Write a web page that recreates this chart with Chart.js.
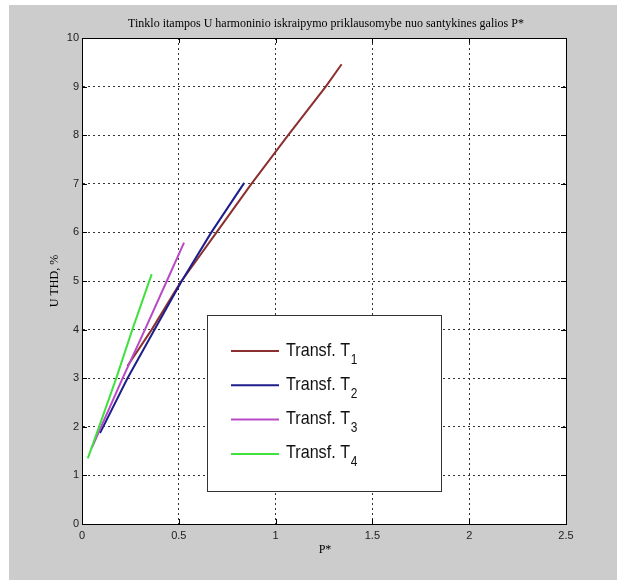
<!DOCTYPE html>
<html>
<head>
<meta charset="utf-8">
<script src="https://cdn.jsdelivr.net/npm/chart.js@4/dist/chart.umd.min.js"></script>
<style>
  html, body { margin: 0; padding: 0; background: #fff; }
  #wrap { position: relative; width: 617px; height: 580px; }
</style>
</head>
<body>
<div id="wrap"><canvas id="c" width="617" height="580"></canvas></div>
<script>
// P* (relative power) and U THD (%) for each transformer
const pT1 = [0.235, 0.36, 0.505, 0.695, 0.875, 1.065, 1.259, 1.341];
const uT1 = [3.25, 4, 4.95, 6, 7, 8, 9, 9.46];
const pT2 = [0.093, 0.235, 0.375, 0.515, 0.668, 0.838];
const uT2 = [1.87, 3, 4, 5, 6, 7.02];
const pT3 = [0.05, 0.21, 0.325, 0.438, 0.527];
const uT3 = [1.56, 3, 4, 5, 5.79];
const pT4 = [0.03, 0.088, 0.177, 0.26, 0.36];
const uT4 = [1.35, 2, 3, 4, 5.14];

const seriesNames = ['Transf. T', 'Transf. T', 'Transf. T', 'Transf. T'];
const seriesSubs = ['1', '2', '3', '4'];
const seriesColors = ['#8c2f2f', '#1d1d8c', '#b84ac6', '#3fe03f'];

const xTicks = [0, 0.5, 1, 1.5, 2, 2.5];
const yTicks = [0, 1, 2, 3, 4, 5, 6, 7, 8, 9, 10];

const titleText = 'Tinklo itampos U harmoninio iskraipymo priklausomybe nuo santykines galios P*';
const xTitle = 'P*';
const yTitle = 'U THD, %';

const SERIF = '"Liberation Serif", "Times New Roman", serif';
const SANS = '"Liberation Sans", Arial, sans-serif';

const pairs = (xs, ys) => xs.map((x, i) => ({ x, y: ys[i] }));
const series = [pairs(pT1, uT1), pairs(pT2, uT2), pairs(pT3, uT3), pairs(pT4, uT4)];

// gray figure, white axes, box frame with inner ticks, titles
const frame = {
    id: 'frame',
    beforeDraw(chart) {
        const { ctx, chartArea: a } = chart;
        ctx.save();
        ctx.fillStyle = '#cccccc';
        ctx.fillRect(9, 5, chart.width - 9, chart.height - 5);
        ctx.fillStyle = '#ffffff';
        ctx.fillRect(a.left, a.top, a.right - a.left, a.bottom - a.top);
        ctx.restore();
    },
    afterDraw(chart) {
        const { ctx, chartArea: a, scales } = chart;
        ctx.save();
        ctx.strokeStyle = '#000';
        ctx.lineWidth = 1;
        ctx.strokeRect(Math.round(a.left) + 0.5, Math.round(a.top) + 0.5,
            Math.round(a.right - a.left), Math.round(a.bottom - a.top));
        ctx.beginPath();
        xTicks.forEach(v => {
            const x = Math.round(scales.x.getPixelForValue(v)) + 0.5;
            ctx.moveTo(x, a.bottom); ctx.lineTo(x, a.bottom - 5);
            ctx.moveTo(x, a.top); ctx.lineTo(x, a.top + 5);
        });
        yTicks.forEach(v => {
            const y = Math.round(scales.y.getPixelForValue(v)) + 0.5;
            ctx.moveTo(a.left, y); ctx.lineTo(a.left + 5, y);
            ctx.moveTo(a.right, y); ctx.lineTo(a.right - 5, y);
        });
        ctx.stroke();

        ctx.fillStyle = '#000';
        ctx.font = '12px ' + SERIF;
        ctx.textAlign = 'center';
        ctx.textBaseline = 'alphabetic';
        ctx.fillText(titleText, 326, 27);
        ctx.fillText(xTitle, 325, 553);
        ctx.translate(58, 281);
        ctx.rotate(-Math.PI / 2);
        ctx.fillText(yTitle, 0, 0);
        ctx.restore();
    }
};

// boxed legend with subscripted labels
const boxLegend = {
    id: 'boxLegend',
    afterDatasetsDraw(chart, args, o) {
        const ctx = chart.ctx;
        ctx.save();
        ctx.fillStyle = '#fff';
        ctx.fillRect(o.left, o.top, o.width, o.height);
        ctx.strokeStyle = '#333';
        ctx.lineWidth = 1;
        ctx.strokeRect(o.left + 0.5, o.top + 0.5, o.width, o.height);
        chart.data.datasets.forEach((ds, i) => {
            const y = o.rowTop + i * o.rowGap;
            ctx.strokeStyle = ds.borderColor;
            ctx.lineWidth = 2;
            ctx.beginPath();
            ctx.moveTo(o.lineX1, y);
            ctx.lineTo(o.lineX2, y);
            ctx.stroke();
            ctx.save();
            ctx.translate(o.textX, y + 4.5);
            ctx.scale(0.85, 1);
            ctx.fillStyle = '#111';
            ctx.font = '19px ' + SANS;
            ctx.fillText(ds.label, 0, 0);
            const w = ctx.measureText(ds.label).width;
            ctx.font = '14px ' + SANS;
            ctx.fillText(ds.sub, w + 1, 8);
            ctx.restore();
        });
        ctx.restore();
    }
};

new Chart(document.getElementById('c'), {
    type: 'scatter',
    data: {
        datasets: series.map((d, i) => ({
            label: seriesNames[i],
            sub: seriesSubs[i],
            data: d,
            showLine: true,
            borderColor: seriesColors[i],
            backgroundColor: seriesColors[i],
            borderWidth: 2,
            pointRadius: 0,
            tension: 0,
            order: 4 - i
        }))
    },
    options: {
        responsive: false,
        devicePixelRatio: 1,
        animation: false,
        layout: { padding: { left: 0, top: 38, right: 51, bottom: 0 } },
        plugins: {
            legend: { display: false },
            title: { display: false },
            tooltip: { enabled: false },
            boxLegend: {
                left: 207, top: 315, width: 234, height: 176,
                lineX1: 231, lineX2: 279, textX: 286,
                rowTop: 351, rowGap: 34.3
            }
        },
        scales: {
            x: {
                type: 'linear',
                min: 0, max: 2.5,
                afterFit(s) { s.height = 56; },
                afterBuildTicks(s) { s.ticks = xTicks.map(v => ({ value: v })); },
                ticks: {
                    padding: 5,
                    color: '#222',
                    font: { family: SANS, size: 11 },
                    maxRotation: 0,
                    callback: v => String(v)
                },
                grid: { color: '#333', lineWidth: 1, drawTicks: false },
                border: { display: true, color: '#000', width: 1, dash: [2, 3] }
            },
            y: {
                type: 'linear',
                min: 0, max: 10,
                afterFit(s) { s.width = 82; },
                afterBuildTicks(s) { s.ticks = yTicks.map(v => ({ value: v })); },
                ticks: {
                    padding: 3,
                    color: '#222',
                    font: { family: SANS, size: 11 },
                    callback: v => String(v)
                },
                grid: { color: '#333', lineWidth: 1, drawTicks: false },
                border: { display: true, color: '#000', width: 1, dash: [2, 3] }
            }
        }
    },
    plugins: [frame, boxLegend]
});
</script>
</body>
</html>
